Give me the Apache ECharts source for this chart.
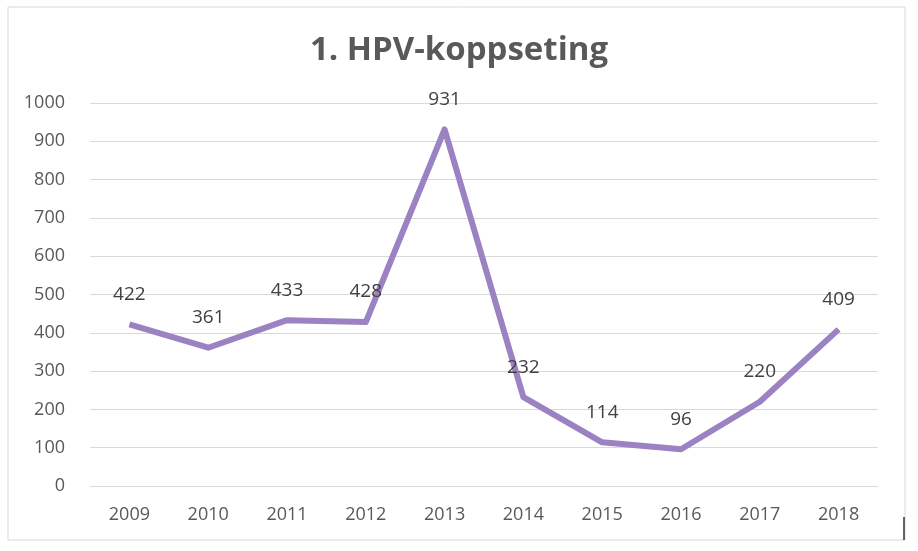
<!DOCTYPE html>
<html>
<head>
<meta charset="utf-8">
<script src="https://cdn.jsdelivr.net/npm/echarts@6/dist/echarts.min.js"></script>
<style>
  html, body { margin: 0; padding: 0; background: #fff; }
  #chart { width: 918px; height: 551px; }
</style>
</head>
<body>
<div id="chart"></div>
<script>
// data
const years = ["2009", "2010", "2011", "2012", "2013", "2014", "2015", "2016", "2017", "2018"];
const counts = [422, 361, 433, 428, 931, 232, 114, 96, 220, 409];

const myChart = echarts.init(document.getElementById("chart"));
const font = "'Open Sans', 'Liberation Sans', sans-serif";

myChart.setOption({
  backgroundColor: "#fff",
  title: {
    text: "1. HPV-koppseting",
    left: "center",
    top: 29,
    textStyle: { fontFamily: font, fontSize: 33, fontWeight: "bold", color: "#595959" },
  },
  graphic: [
    {
      type: "rect",
      shape: { x: 8, y: 7, width: 897, height: 533 },
      style: { fill: "none", stroke: "#d9d9d9", lineWidth: 1 },
      silent: true,
    },
    // little dark stroke at the bottom right of the frame
    {
      type: "line",
      shape: { x1: 904, y1: 517, x2: 904, y2: 540 },
      style: { stroke: "#333", lineWidth: 1.5 },
      silent: true,
    },
  ],
  grid: { left: 90, right: 40, top: 103, bottom: 65 },
  xAxis: {
    type: "category",
    data: years,
    boundaryGap: true,
    axisLine: { show: true, lineStyle: { color: "#d9d9d9", width: 1 } },
    axisTick: { show: false },
    axisLabel: { fontFamily: font, fontSize: 18, color: "#595959", margin: 20 },
  },
  yAxis: {
    type: "value",
    min: 0,
    max: 1000,
    interval: 100,
    axisLine: { show: false },
    axisTick: { show: false },
    splitLine: { lineStyle: { color: "#d9d9d9", width: 1 } },
    axisLabel: {
      fontFamily: font,
      fontSize: 18,
      color: "#595959",
      margin: 25,
      formatter: (v) => String(v),
    },
  },
  series: [
    {
      type: "line",
      data: counts,
      symbol: "circle",
      symbolSize: 1,
      showSymbol: true,
      itemStyle: { color: "rgba(0,0,0,0)" },
      lineStyle: { color: "#9b82c2", width: 6, join: "round" },
      labelLayout: { hideOverlap: false },
      label: {
        show: true,
        position: "top",
        distance: 20,
        fontFamily: font,
        fontSize: 19,
        color: "#404040",
      },
    },
  ],
});
window.onresize = function () {
  myChart.resize();
};
</script>
</body>
</html>
